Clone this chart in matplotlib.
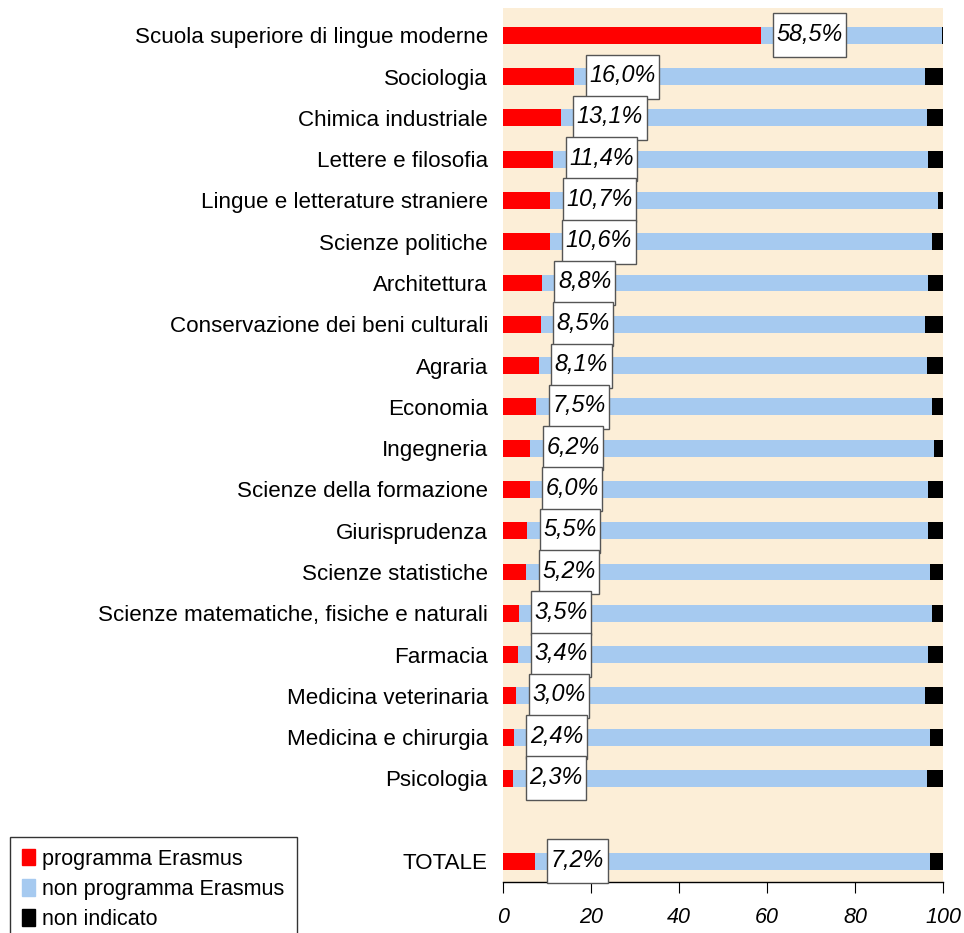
import numpy as np
import matplotlib.pyplot as plt
from matplotlib.patches import Patch, Rectangle
from matplotlib.transforms import IdentityTransform

plt.rcParams['font.family'] = ['Liberation Sans', 'DejaVu Sans']

# categories (top to bottom)
facolta = ['Scuola superiore di lingue moderne', 'Sociologia', 'Chimica industriale',
           'Lettere e filosofia', 'Lingue e letterature straniere', 'Scienze politiche',
           'Architettura', 'Conservazione dei beni culturali', 'Agraria', 'Economia',
           'Ingegneria', 'Scienze della formazione', 'Giurisprudenza', 'Scienze statistiche',
           'Scienze matematiche, fisiche e naturali', 'Farmacia', 'Medicina veterinaria',
           'Medicina e chirurgia', 'Psicologia', 'TOTALE']
erasmus = [58.5, 16.0, 13.1, 11.4, 10.7, 10.6, 8.8, 8.5, 8.1, 7.5,
           6.2, 6.0, 5.5, 5.2, 3.5, 3.4, 3.0, 2.4, 2.3, 7.2]
non_indicato = [0.3, 4.2, 3.7, 3.5, 1.2, 2.6, 3.5, 4.2, 3.7, 2.5,
                2.0, 3.4, 3.4, 3.0, 2.5, 3.4, 4.1, 3.0, 3.6, 3.0]

erasmus = np.array(erasmus)
non_indicato = np.array(non_indicato)
non_erasmus = 100 - erasmus - non_indicato

# rows 0..18, gap, then TOTALE at 20
ypos = np.array(list(range(19)) + [20])

fig = plt.figure(figsize=(9.64, 9.33), dpi=100)
ax = fig.add_axes([0.522, 0.055, 0.4565, 0.936])
ax.set_facecolor('#FCEED7')

h = 0.41
ax.barh(ypos, erasmus, height=h, color='#FF0000')
ax.barh(ypos, non_erasmus, left=erasmus, height=h, color='#A6CAF0')
ax.barh(ypos, non_indicato, left=erasmus + non_erasmus, height=h, color='#000000')

# percentage labels, boxes drawn afterwards in pixel units
labels = []
for y, v in zip(ypos, erasmus):
    t = ax.annotate(f'{v:.1f}%'.replace('.', ','), xy=(v, y), xytext=(16, 1),
                    textcoords='offset pixels', ha='left', va='center',
                    fontsize=16.8, fontstyle='italic', zorder=6)
    labels.append(t)

ax.set_xlim(0, 100)
ax.set_ylim(20.5, -0.65)
ax.set_yticks(ypos)
ax.set_yticklabels(facolta, fontsize=16.1)
ax.tick_params(axis='y', length=0, pad=11)
ax.set_xticks([0, 20, 40, 60, 80, 100])
ax.set_xticklabels(['0', '20', '40', '60', '80', '100'], fontsize=15.5, fontstyle='italic')
ax.tick_params(axis='x', length=8, direction='out', pad=10)
for s in ['top', 'right', 'left']:
    ax.spines[s].set_visible(False)
ax.spines['bottom'].set_linewidth(1)

handles = [Patch(color='#FF0000'), Patch(color='#A6CAF0'), Patch(color='#000000')]
fig.legend(handles, ['programma Erasmus', 'non programma Erasmus', 'non indicato'],
           loc='upper left', bbox_to_anchor=(0.0105, 0.103), fontsize=15.5,
           frameon=True, fancybox=False, edgecolor='black', handlelength=0.6,
           handleheight=0.8, handletextpad=0.35, labelspacing=0.42, borderpad=0.55,
           borderaxespad=0)

fig.canvas.draw()
r = fig.canvas.get_renderer()
for t, y in zip(labels, ypos):
    bb = t.get_window_extent(r)
    yc = ax.transData.transform((0, y))[1]
    box = Rectangle((bb.x0 - 3.5, yc - 22), bb.width + 7, 44,
                    transform=IdentityTransform(), fc='white', ec='#555555',
                    lw=1, zorder=5, clip_on=False)
    ax.add_artist(box)

fig.savefig('out.png', dpi=100)
